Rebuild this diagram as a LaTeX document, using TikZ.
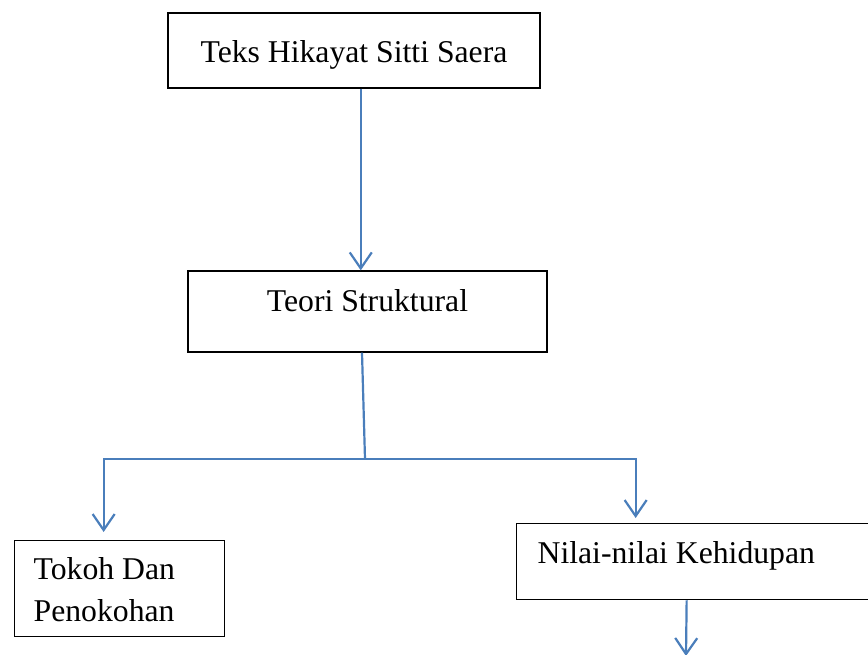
\documentclass[tikz,border=0pt]{standalone}
\usepackage{fontspec}
\setmainfont{Liberation Serif}
\usetikzlibrary{arrows.meta,positioning,calc}
\definecolor{linkblue}{RGB}{74,126,187}

\begin{document}
\begin{tikzpicture}[
    x=1pt, y=-1pt,
    box/.style={rectangle, draw, line width=1.3pt, font=\fontsize{31.7}{42}\selectfont},
    arrow/.style={-{Straight Barb[length=16pt, width=22pt]}, line width=2.2pt, draw=linkblue},
    link/.style={line width=2.2pt, draw=linkblue}
]
\useasboundingbox (0,0) rectangle (868,655);
\clip (0,0) rectangle (868,655);

% Text source
\node[box, minimum width=372pt, minimum height=75pt, text height=32pt, text depth=7pt] (teks) at (354,50.5) {Teks Hikayat Sitti Saera};

% Theory
\node[box, minimum width=359pt, minimum height=81pt, text height=8pt, text depth=7pt] (teori) at (367.5,311.5) {Teori Struktural};

% Analysis - two branches
\node[box, anchor=north west, minimum width=210pt, minimum height=96pt, text width=172pt, inner xsep=19pt, align=flush left, text height=23.5pt] (tokoh) at (14,540) {Tokoh Dan\\Penokohan};
\node[box, anchor=north west, minimum width=374pt, minimum height=76pt, text width=332pt, inner xsep=21pt, align=flush left, text height=11pt, text depth=7pt] (nilai) at (516,523) {Nilai-nilai Kehidupan};

% Arrow from text to theory
\coordinate (mid) at ($(teks.south)!0.5!(teori.north)$);
\draw[arrow] (mid |- teks.south) -- (mid |- teori.north);

% Branching from theory
\coordinate (fork) at (365,459);
\draw[link] ([xshift=-5.5pt]teori.south) -- (fork);
\draw[arrow, shorten >=8pt] (fork) -| ([xshift=-16pt]tokoh.north);
\draw[arrow, shorten >=5pt] (fork) -| ([xshift=-68pt]nilai.north);

% Continuing arrow
\coordinate (next) at (686,656);
\draw[arrow] ([xshift=-17pt]nilai.south) -- (next);

\end{tikzpicture}
\end{document}
